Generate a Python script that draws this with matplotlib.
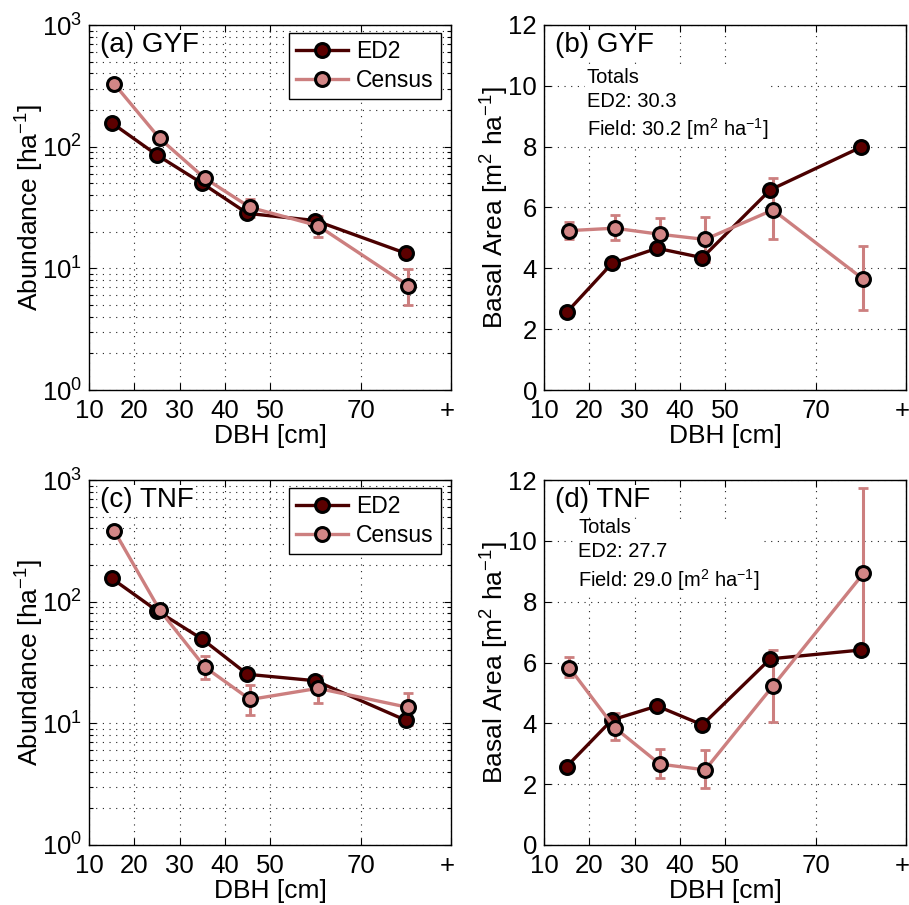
import matplotlib
matplotlib.use("Agg")
import matplotlib.pyplot as plt
import matplotlib.transforms as mtransforms
from matplotlib.ticker import LogLocator, FixedLocator, FixedFormatter, NullFormatter
import numpy as np

plt.rcParams["font.family"] = ["Liberation Sans", "DejaVu Sans"]
plt.rcParams["mathtext.fontset"] = "custom"
plt.rcParams["mathtext.rm"] = "Liberation Sans"
plt.rcParams["mathtext.it"] = "Liberation Sans:italic"
plt.rcParams["mathtext.bf"] = "Liberation Sans:bold"

# DBH size classes (cm); census points are nudged right so the two series stay readable
dbh_classes = [15, 25, 35, 45, 60, 80]
census_shift = 0.6
xtick_pos = [10, 20, 30, 40, 50, 70, 90]
xtick_labels = ["10", "20", "30", "40", "50", "70", "+"]

# Abundance [ha-1]
gyf_abund_ed2 = [157, 85.5, 50, 28.3, 24.7, 13.3]
gyf_abund_census = [327, 117, 55, 31.7, 22.4, 7.2]
gyf_abund_lo = [310, 108, 50, 26.4, 18.2, 5.0]
gyf_abund_hi = [345, 126, 60, 37, 27, 9.8]

tnf_abund_ed2 = [155.6, 84.4, 49.3, 25.3, 22.4, 10.6]
tnf_abund_census = [381, 85.5, 29.0, 15.7, 19.4, 13.5]
tnf_abund_lo = [362, 78, 23.1, 11.6, 14.6, 9.6]
tnf_abund_hi = [400, 93, 35.6, 20.7, 24.7, 17.9]

# Basal area [m2 ha-1]
gyf_ba_ed2 = [2.55, 4.16, 4.66, 4.35, 6.58, 7.98]
gyf_ba_census = [5.24, 5.32, 5.12, 4.95, 5.92, 3.64]
gyf_ba_lo = [4.96, 4.93, 4.60, 4.22, 4.95, 2.63]
gyf_ba_hi = [5.53, 5.75, 5.67, 5.68, 6.96, 4.75]

tnf_ba_ed2 = [2.58, 4.11, 4.57, 3.95, 6.12, 6.41]
tnf_ba_census = [5.83, 3.86, 2.66, 2.47, 5.23, 8.93]
tnf_ba_lo = [5.53, 3.45, 2.21, 1.86, 4.05, 6.45]
tnf_ba_hi = [6.17, 4.33, 3.15, 3.12, 6.41, 11.73]

ed2_line = "#4a0000"
ed2_face = "#5c0000"
census_line = "#cc7f7f"
census_face = "#d28686"

TICK_FS = 18.5
LABEL_FS = 19
PANEL_FS = 20
LEGEND_FS = 16.5
NOTE_FS = 14.5
GRID_LS = (0, (1, 5))

fig = plt.figure(figsize=(9.09, 9.05), dpi=100)
W, H = 909, 905


def add_axes(left, top, right, bottom):
    return fig.add_axes([left / W, 1 - bottom / H, (right - left) / W, (bottom - top) / H])


ax_a = add_axes(89, 25, 451, 390)
ax_b = add_axes(544, 25, 906, 390)
ax_c = add_axes(89, 480, 451, 845)
ax_d = add_axes(544, 480, 906, 845)


def draw_series(ax, ed2, census, lo, hi):
    x = np.array(dbh_classes, dtype=float)
    xc = x + census_shift
    census = np.array(census)
    yerr = [census - np.array(lo), np.array(hi) - census]
    ax.errorbar(xc, census, yerr=yerr, fmt="none", ecolor=census_line,
                elinewidth=2.2, capsize=3.5, capthick=2.0, zorder=3)
    ed2_h, = ax.plot(x, ed2, "-o", color=ed2_line, lw=2.4, ms=10,
                     mfc=ed2_face, mec="black", mew=2.2, zorder=4)
    cen_h, = ax.plot(xc, census, "-o", color=census_line, lw=2.4, ms=10,
                     mfc=census_face, mec="black", mew=2.2, zorder=5)
    return ed2_h, cen_h


def style_axes(ax, log):
    ax.set_xlim(10, 90)
    ax.xaxis.set_major_locator(FixedLocator(xtick_pos))
    ax.xaxis.set_major_formatter(FixedFormatter(xtick_labels))
    ax.tick_params(which="both", direction="in", top=True, right=True,
                   labelsize=TICK_FS, width=0.8)
    ax.tick_params(which="major", length=5)
    ax.tick_params(which="minor", length=3)
    ax.tick_params(axis="x", pad=6.5)
    ax.tick_params(axis="y", pad=5)
    if log:
        ax.set_yscale("log")
        ax.set_ylim(1, 1000)
        ax.yaxis.set_major_locator(LogLocator(base=10, numticks=10))
        ax.yaxis.set_minor_locator(LogLocator(base=10, subs=np.arange(2, 10), numticks=20))
        ax.yaxis.set_minor_formatter(NullFormatter())
        ax.grid(True, which="major", axis="both", ls=GRID_LS, color="#222222", lw=0.8)
        ax.grid(True, which="minor", axis="y", ls=GRID_LS, color="#222222", lw=0.8)
        ax.set_ylabel("Abundance [ha$^{-1}$]", fontsize=LABEL_FS, labelpad=-3)
    else:
        ax.set_ylim(0, 12)
        ax.set_yticks([0, 2, 4, 6, 8, 10, 12])
        ax.grid(True, which="major", ls=GRID_LS, color="#222222", lw=0.8)
        ax.set_ylabel("Basal Area [m$^2$ ha$^{-1}$]", fontsize=LABEL_FS, labelpad=-2)
    ax.set_xlabel("DBH [cm]", fontsize=LABEL_FS, labelpad=1)
    for s in ax.spines.values():
        s.set_linewidth(1.0)
    ax.set_axisbelow(True)
    # pull the open-ended "+" class label slightly inside the figure
    last = ax.xaxis.get_major_ticks()[-1]
    shift = mtransforms.ScaledTranslation(-3 / 72, 0, fig.dpi_scale_trans)
    last.label1.set_transform(last.label1.get_transform() + shift)


white_box = dict(facecolor="white", edgecolor="none", pad=1.5)


def add_legend(ax, h1, h2):
    leg = ax.legend([h1, h2], ["ED2", "Census"], loc="upper right", fontsize=LEGEND_FS,
                    frameon=True, fancybox=False, edgecolor="black", framealpha=1,
                    handlelength=2.3, borderpad=0.3, labelspacing=0.25,
                    handletextpad=0.35, borderaxespad=0.0,
                    bbox_to_anchor=(0.972, 0.978))
    leg.get_frame().set_linewidth(1.0)


def add_totals(ax, x, y, ed2, census):
    ax.text(x, y,
            "Totals\nED2: %.1f\nField: %.1f [m$^2$ ha$^{-1}$]" % (sum(ed2), sum(census)),
            transform=ax.transAxes, fontsize=NOTE_FS, va="top", ha="left",
            linespacing=1.3, bbox=white_box, zorder=6)


def add_panel_label(ax, text):
    ax.text(0.03, 0.945, text, transform=ax.transAxes, fontsize=PANEL_FS,
            va="center", ha="left", bbox=white_box, zorder=6)


# (a) GYF abundance
h1, h2 = draw_series(ax_a, gyf_abund_ed2, gyf_abund_census, gyf_abund_lo, gyf_abund_hi)
style_axes(ax_a, True)
add_panel_label(ax_a, "(a) GYF")
add_legend(ax_a, h1, h2)

# (b) GYF basal area
draw_series(ax_b, gyf_ba_ed2, gyf_ba_census, gyf_ba_lo, gyf_ba_hi)
style_axes(ax_b, False)
add_panel_label(ax_b, "(b) GYF")
add_totals(ax_b, 0.118, 0.882, gyf_ba_ed2, gyf_ba_census)

# (c) TNF abundance
h1, h2 = draw_series(ax_c, tnf_abund_ed2, tnf_abund_census, tnf_abund_lo, tnf_abund_hi)
style_axes(ax_c, True)
add_panel_label(ax_c, "(c) TNF")
add_legend(ax_c, h1, h2)

# (d) TNF basal area
draw_series(ax_d, tnf_ba_ed2, tnf_ba_census, tnf_ba_lo, tnf_ba_hi)
style_axes(ax_d, False)
add_panel_label(ax_d, "(d) TNF")
add_totals(ax_d, 0.094, 0.895, tnf_ba_ed2, tnf_ba_census)

fig.savefig("out.png", dpi=100)
